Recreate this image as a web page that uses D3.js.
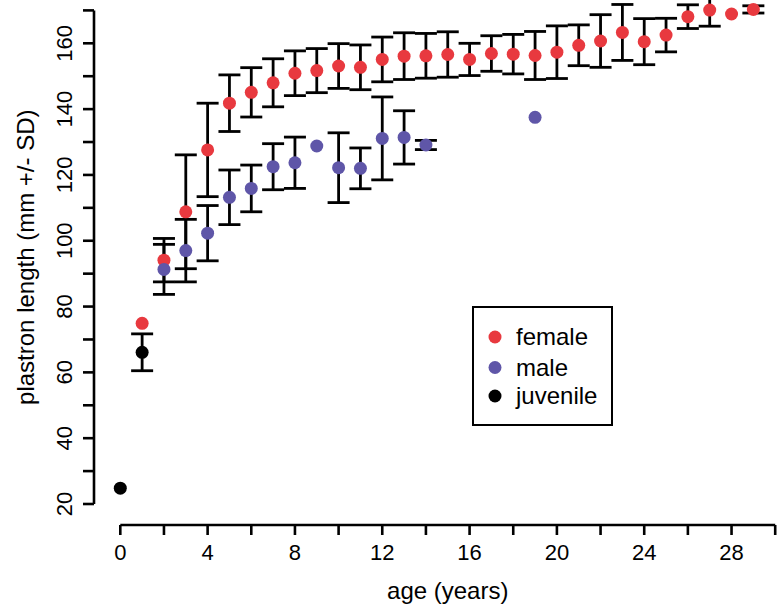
<!DOCTYPE html>
<html>
<head>
<meta charset="utf-8">
<script src="https://cdn.jsdelivr.net/npm/d3@7"></script>
<style>
  html, body { margin: 0; padding: 0; background: #fff; }
  svg { display: block; font-family: "Liberation Sans", Arial, sans-serif; }
</style>
</head>
<body>
<svg id="chart" width="778" height="615"></svg>
<script>
// ---- data ----
const femaleAges = [1,2,3,4,5,6,7,8,9,10,11,12,13,14,15,16,17,18,19,20,21,22,23,24,25,26,27,28,29];
const femaleMean = [74.9,94.1,108.8,127.6,141.8,145.1,148.0,150.9,151.7,153.1,152.7,155.1,156.1,156.2,156.6,155.1,156.9,156.7,156.3,157.3,159.4,160.7,163.3,160.5,162.5,168.1,170.1,168.9,170.3];
const femaleSD   = [null,6.6,17.3,14.2,8.6,7.5,7.3,6.8,6.7,6.8,6.8,6.8,7.1,6.8,6.9,4.9,5.4,6.0,7.3,8.0,6.2,8.0,8.5,7.0,5.1,3.6,4.9,null,1.1];

const maleAges = [2,3,4,5,6,7,8,9,10,11,12,13,14,19];
const maleMean = [91.3,97.0,102.3,113.2,115.9,122.5,123.7,128.8,122.2,122.0,131.1,131.4,129.1,137.5];
const maleSD   = [7.6,9.5,8.4,8.3,7.1,7.0,7.8,null,10.6,6.2,12.6,8.1,1.4,null];

const juvenileAges = [0,1];
const juvenileMean = [24.8,66.1];
const juvenileSD   = [null,5.6];

const xTicks = [0,2,4,6,8,10,12,14,16,18,20,22,24,26,28,30];
const xTickLabels = [0,4,8,12,16,20,24,28];
const yTicks = [20,30,40,50,60,70,80,90,100,110,120,130,140,150,160,170];
const yTickLabels = [20,40,60,80,100,120,140,160];

const seriesNames = ["female","male","juvenile"];
const seriesColors = ["#e8393f","#5f56a8","#000000"];

const xTitle = "age (years)";
const yTitle = "plastron length (mm +/- SD)";

// ---- drawing ----
const svg = d3.select("#chart");
const x = d3.scaleLinear().domain([0,30]).range([120.3, 775.2]);
const y = d3.scaleLinear().domain([20,170]).range([504, 10.4]);

const axisY = 94, axisX = 525;

// Y axis
const gy = svg.append("g").attr("transform", `translate(${axisY},0)`);
gy.append("line").attr("x1",0).attr("x2",0).attr("y1",y(20)).attr("y2",y(170))
  .attr("stroke","#000").attr("stroke-width",2.6);
gy.selectAll("line.t").data(yTicks).join("line").attr("class","t")
  .attr("x1",-11).attr("x2",0).attr("y1",d=>y(d)).attr("y2",d=>y(d))
  .attr("stroke","#000").attr("stroke-width",2.6);
gy.selectAll("text").data(yTickLabels).join("text")
  .attr("transform", d=>`translate(${71.5-axisY},${y(d)}) rotate(-90)`)
  .attr("text-anchor","middle").attr("font-size",22).attr("fill","#000")
  .text(d=>d);

// X axis
const gx = svg.append("g").attr("transform", `translate(0,${axisX})`);
gx.append("line").attr("x1",x(0)).attr("x2",x(30)).attr("y1",0).attr("y2",0)
  .attr("stroke","#000").attr("stroke-width",2.6);
gx.selectAll("line.t").data(xTicks).join("line").attr("class","t")
  .attr("x1",d=>x(d)).attr("x2",d=>x(d)).attr("y1",0).attr("y2",10)
  .attr("stroke","#000").attr("stroke-width",2.6);
gx.selectAll("text").data(xTickLabels).join("text")
  .attr("x",d=>x(d)).attr("y",35).attr("text-anchor","middle")
  .attr("font-size",22).attr("fill","#000").text(d=>d);

// titles
svg.append("text").attr("x",(x(0)+x(30))/2).attr("y",599).attr("text-anchor","middle")
  .attr("font-size",24).attr("fill","#000").text(xTitle);
svg.append("text").attr("transform",`translate(33.5,${(y(20)+y(170))/2}) rotate(-90)`)
  .attr("text-anchor","middle").attr("font-size",24).attr("fill","#000").text(yTitle);

// build series
const series = [
  {ages: femaleAges, mean: femaleMean, sd: femaleSD},
  {ages: maleAges, mean: maleMean, sd: maleSD},
  {ages: juvenileAges, mean: juvenileMean, sd: juvenileSD}
].map((s,i)=>({name: seriesNames[i], color: seriesColors[i],
  pts: s.ages.map((a,j)=>({age:a, mean:s.mean[j], sd:s.sd[j]}))}));

// error bars
const capHalf = 11;
const gBars = svg.append("g").attr("stroke","#000").attr("stroke-width",2.8).attr("fill","none");
series.forEach(s=>{
  const withSD = s.pts.filter(p=>p.sd!=null);
  const g = gBars.append("g");
  g.selectAll("line.v").data(withSD).join("line").attr("class","v")
    .attr("x1",p=>x(p.age)).attr("x2",p=>x(p.age))
    .attr("y1",p=>y(p.mean-p.sd)).attr("y2",p=>y(p.mean+p.sd));
  g.selectAll("line.u").data(withSD).join("line").attr("class","u")
    .attr("x1",p=>x(p.age)-capHalf).attr("x2",p=>x(p.age)+capHalf)
    .attr("y1",p=>y(p.mean+p.sd)).attr("y2",p=>y(p.mean+p.sd));
  g.selectAll("line.l").data(withSD).join("line").attr("class","l")
    .attr("x1",p=>x(p.age)-capHalf).attr("x2",p=>x(p.age)+capHalf)
    .attr("y1",p=>y(p.mean-p.sd)).attr("y2",p=>y(p.mean-p.sd));
});

// points
series.forEach(s=>{
  svg.append("g").selectAll("circle").data(s.pts).join("circle")
    .attr("cx",p=>x(p.age)).attr("cy",p=>y(p.mean)).attr("r",6.5)
    .attr("fill",s.color);
});

// legend
const lg = svg.append("g");
lg.append("rect").attr("x",473).attr("y",307).attr("width",139).attr("height",118)
  .attr("fill","#fff").attr("stroke","#000").attr("stroke-width",2);
const rowY = [337,367.5,396];
series.forEach((s,i)=>{
  lg.append("circle").attr("cx",495).attr("cy",rowY[i]).attr("r",6.5).attr("fill",s.color);
  lg.append("text").attr("x",516).attr("y",rowY[i]+8).attr("font-size",24)
    .attr("fill","#000").text(s.name);
});
</script>
</body>
</html>
